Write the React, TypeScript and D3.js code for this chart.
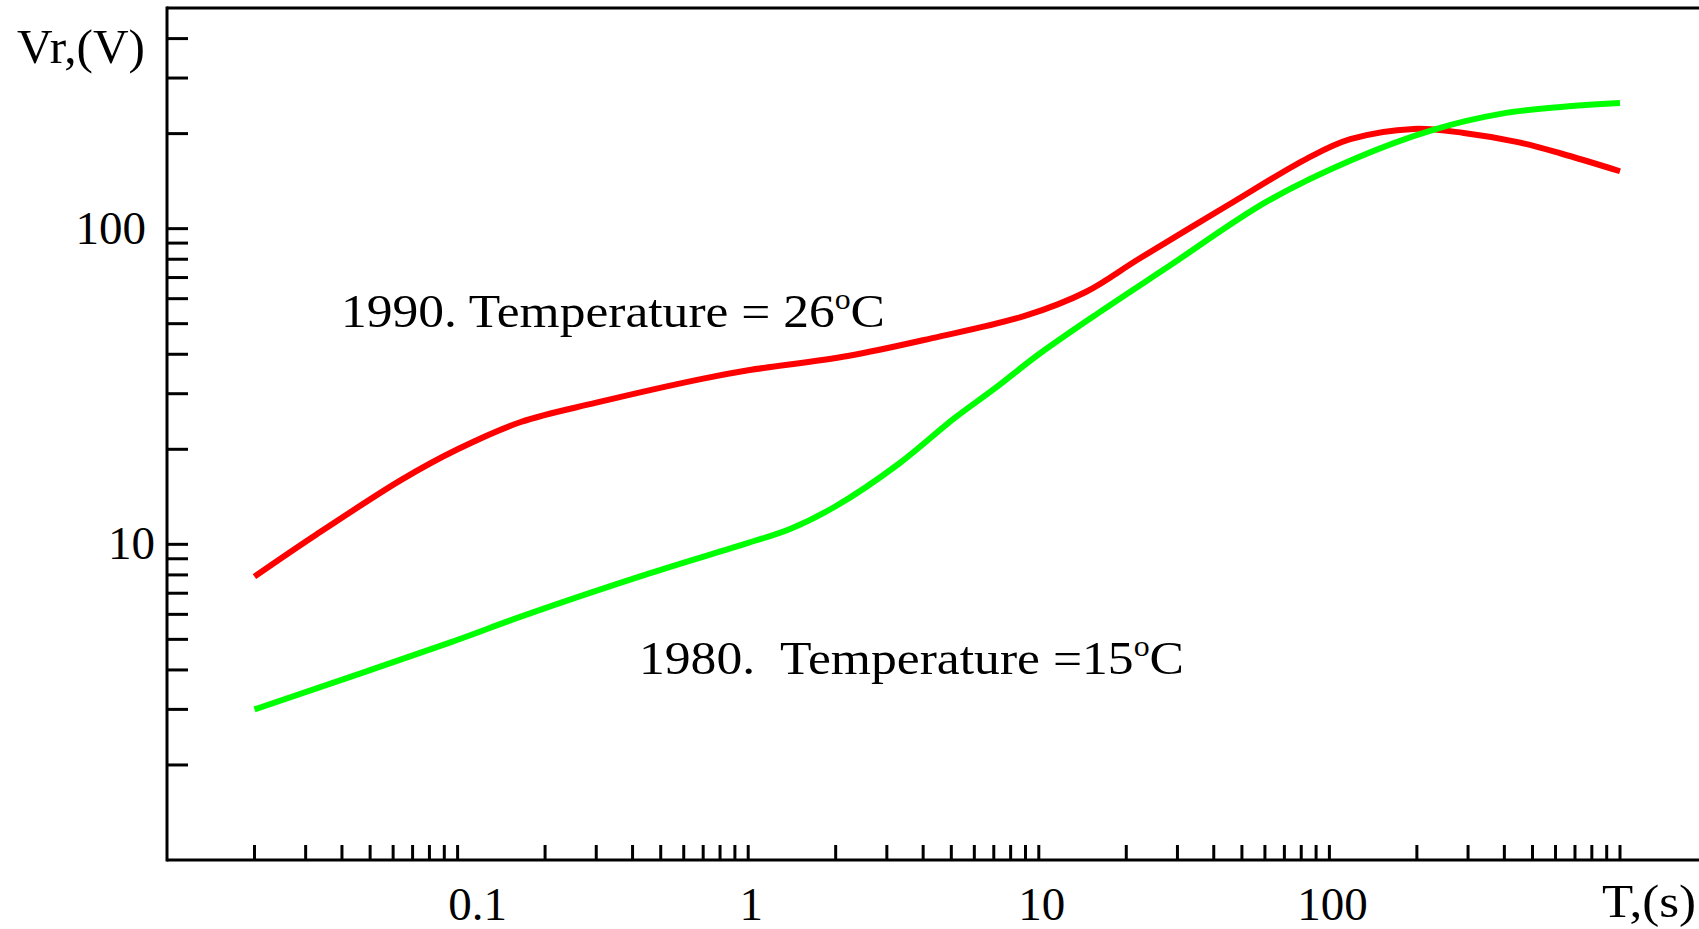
import * as d3 from 'd3';

// Time (s) and recovery voltage (V)
const t1990 = [0.02, 0.032, 0.064, 0.1, 0.165, 0.3, 0.7, 1, 2.2, 4.3, 9, 14.5, 22, 45, 84, 118, 195, 290, 445, 627, 1000];
const v1990 = [7.9, 10.6, 16.0, 20.0, 24.4, 28.1, 33.5, 35.6, 39.5, 45, 53, 63, 80, 119, 167, 192, 207, 201, 188, 173, 152];

const t1980 = [0.02, 0.095, 0.165, 0.46, 1, 1.4, 2, 3.3, 5.1, 7, 10, 16, 28, 61, 121, 229, 388, 626, 1000];
const v1980 = [3.0, 4.9, 5.9, 8.1, 10.1, 11.2, 13.2, 18, 25, 31, 40, 54, 76, 122, 166, 206, 231, 243, 250];

const xTickLabels = [0.1, 1, 10, 100];
const yTickLabels = [10, 100];

const W = 1699;
const H = 929;
const FONT = '"Liberation Serif", "DejaVu Serif", serif';

export default function App() {
  const left = 167, top = 8, bottom = 860;

  const x = d3.scaleLog().domain([0.01, 1000]).range([left, 1620]);
  const y = d3.scaleLog().domain([1, 500]).range([bottom, top]);

  const line = d3.line<[number, number]>()
    .x(d => x(d[0]))
    .y(d => y(d[1]))
    .curve(d3.curveCatmullRom.alpha(0.5));

  const red = line(t1990.map((t, i) => [t, v1990[i]]));
  const green = line(t1980.map((t, i) => [t, v1980[i]]));

  const xTicks = x.ticks().filter(t => t > 0.0101 && t <= 1000.1);
  const yTicks = y.ticks().filter(v => v > 1.01 && v < 499);

  const fmtX = (t: number) => (t < 1 ? t.toFixed(1) : String(t));

  return (
    <div style={{ position: 'absolute', left: 0, top: 0 }}>
      <svg width={W} height={H} style={{ display: 'block', background: '#fff' }} fontFamily={FONT}>
        {/* frame */}
        <g stroke="#000" strokeWidth={3} fill="none">
          <line x1={left} x2={W} y1={top} y2={top} />
          <line x1={left} x2={left} y1={top - 1.5} y2={bottom + 1.5} />
          <line x1={left} x2={W} y1={bottom} y2={bottom} />
        </g>

        {/* y ticks */}
        <g stroke="#000" strokeWidth={3}>
          {yTicks.map(v => (
            <line key={v} x1={left} x2={left + 21} y1={y(v)} y2={y(v)} />
          ))}
        </g>
        {yTickLabels.map(v => (
          <text key={v} x={v === 100 ? 146 : 155} y={y(v) + 15} textAnchor="end" fontSize={47} fill="#000">
            {v}
          </text>
        ))}

        {/* x ticks */}
        <g stroke="#000" strokeWidth={3}>
          {xTicks.map(t => (
            <line key={t} x1={x(t)} x2={x(t)} y1={bottom} y2={bottom - 15} />
          ))}
        </g>
        {xTickLabels.map(t => (
          <text key={t} x={x(t) + (t < 1 ? 20 : 3)} y={920} textAnchor="middle" fontSize={47} fill="#000">
            {fmtX(t)}
          </text>
        ))}

        {/* axis titles */}
        <text x={17} y={63} fontSize={49} fill="#000" textLength={128} lengthAdjust="spacingAndGlyphs">Vr,(V)</text>
        <text x={1602} y={917} fontSize={47} fill="#000" textLength={94} lengthAdjust="spacingAndGlyphs">T,(s)</text>

        {/* curves */}
        <path d={red ?? ''} fill="none" stroke="#ff0000" strokeWidth={6} />
        <path d={green ?? ''} fill="none" stroke="#00ff00" strokeWidth={6} />

        {/* annotations */}
        <text x={341} y={327} fontSize={47} fill="#000" textLength={544} lengthAdjust="spacingAndGlyphs">
          1990. Temperature = 26<tspan fontSize={29} dy={-18}>o</tspan><tspan dy={18}>C</tspan>
        </text>
        <text x={639} y={674} fontSize={47} fill="#000" xmlSpace="preserve" textLength={545} lengthAdjust="spacingAndGlyphs">
          {'1980.  Temperature =15'}<tspan fontSize={29} dy={-18}>o</tspan><tspan dy={18}>C</tspan>
        </text>
      </svg>
    </div>
  );
}
